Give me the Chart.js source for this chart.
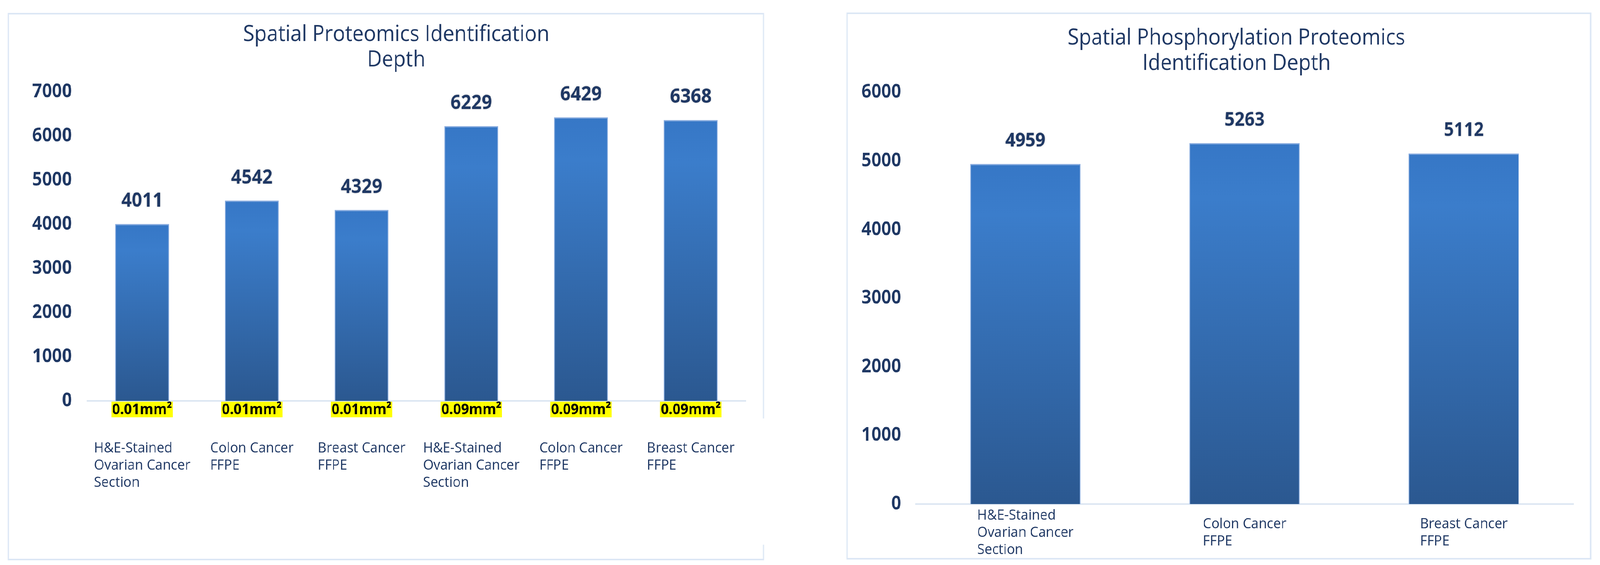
<!DOCTYPE html>
<html>
<head>
<meta charset="utf-8">
<script src="https://cdn.jsdelivr.net/npm/chart.js@4.4.0/dist/chart.umd.min.js"></script>
<style>
  html, body { margin: 0; padding: 0; background: #fff; overflow: hidden; }
  #page { width: 4401px; height: 1446px; position: relative; transform-origin: 0 0; }
  .panel { position: absolute; box-sizing: border-box; border: 4px solid #dce7f5; }
  canvas { position: absolute; }
</style>
</head>
<body>
<div id="page">
  <div class="panel" style="left:21px;top:33px;width:2081px;height:1401px"></div>
  <div style="position:absolute;left:2094px;top:1071px;width:10px;height:323px;background:#fff"></div>
  <canvas id="leftChart" width="2081" height="1401" style="left:21px;top:33px"></canvas>
  <div class="panel" style="left:2328px;top:32px;width:2049px;height:1400px"></div>
  <canvas id="rightChart" width="2049" height="1400" style="left:2328px;top:32px"></canvas>
</div>
<script>
// ---- data ----
var leftTitle = ['Spatial Proteomics Identification', 'Depth'];
var leftCategories = [
  ['H&E-Stained', 'Ovarian Cancer', 'Section'],
  ['Colon Cancer', 'FFPE'],
  ['Breast Cancer', 'FFPE'],
  ['H&E-Stained', 'Ovarian Cancer', 'Section'],
  ['Colon Cancer', 'FFPE'],
  ['Breast Cancer', 'FFPE']
];
var leftAreas = ['0.01mm²', '0.01mm²', '0.01mm²', '0.09mm²', '0.09mm²', '0.09mm²'];
var leftValues = [4011, 4542, 4329, 6229, 6429, 6368];
var leftMax = 7000;

var rightTitle = ['Spatial Phosphorylation Proteomics', 'Identification Depth'];
var rightCategories = [
  ['H&E-Stained', 'Ovarian Cancer', 'Section'],
  ['Colon Cancer', 'FFPE'],
  ['Breast Cancer', 'FFPE']
];
var rightValues = [4959, 5263, 5112];
var rightMax = 6000;

var navy = '#1f3864';
var FONT = '"Open Sans", "Noto Sans", sans-serif';

// the page is laid out at 4401 wide; squeeze it if the window is narrower
var sx = Math.min(1, window.innerWidth / 4401);
var sy = Math.min(1, window.innerHeight / 1446);
document.getElementById('page').style.transform = 'scale(' + sx + ',' + sy + ')';

// gradient per bar, from its top down to zero
function barFill(ctx) {
  var chart = ctx.chart;
  if (!chart.chartArea || ctx.type !== 'data') return '#3572bd';
  var y = chart.scales.y;
  var top = y.getPixelForValue(ctx.parsed.y);
  var bottom = y.getPixelForValue(0);
  var g = chart.ctx.createLinearGradient(0, top, 0, bottom);
  g.addColorStop(0, '#3677c6');
  g.addColorStop(0.15, '#3b7dcb');
  g.addColorStop(1, '#2b5890');
  return g;
}

var barText = {
  id: 'barText',
  // the title sits a little right of the canvas centre in the original
  afterLayout: function(chart, args, opts) {
    var t = chart.titleBlock;
    if (t && opts.titleShift) { t.left += opts.titleShift; t.right += opts.titleShift; }
  },
  afterDatasetsDraw: function(chart, args, opts) {
    var ctx = chart.ctx, xs = chart.scales.x, area = chart.chartArea;
    var meta = chart.getDatasetMeta(0);
    var values = chart.data.datasets[0].data;
    ctx.save();

    // value labels above the bars, with a faint glow like the original
    ctx.font = 'bold ' + opts.valueSize + 'px ' + FONT;
    ctx.fillStyle = navy;
    ctx.textAlign = 'center';
    ctx.textBaseline = 'middle';
    ctx.shadowColor = 'rgba(0,0,0,0.25)';
    ctx.shadowBlur = 4;
    meta.data.forEach(function(bar, i) {
      ctx.fillText(String(values[i]), bar.x, bar.y - opts.valueGap);
    });
    ctx.shadowColor = 'transparent';
    ctx.shadowBlur = 0;

    // category labels: block centred on bar, lines left aligned
    var lh = 44;
    ctx.font = '37px ' + FONT;
    ctx.textAlign = 'left';
    chart.data.labels.forEach(function(lines, i) {
      var cx = xs.getPixelForValue(i);
      var w = 0;
      lines.forEach(function(l) { w = Math.max(w, ctx.measureText(l).width); });
      var y0 = area.bottom + opts.catOffset;
      if (opts.catMode === 'middle') y0 -= (lines.length - 1) * lh / 2;
      lines.forEach(function(l, k) { ctx.fillText(l, cx - w / 2, y0 + k * lh); });
    });

    // yellow highlighted area tags under the axis
    if (opts.areas) {
      ctx.font = 'bold 38px ' + FONT;
      ctx.textAlign = 'center';
      opts.areas.forEach(function(t, i) {
        var cx = xs.getPixelForValue(i);
        var w = ctx.measureText(t).width + 4;
        ctx.fillStyle = '#ffff00';
        ctx.fillRect(cx - w / 2, area.bottom + 2, w, 40);
        ctx.fillStyle = '#000';
        ctx.fillText(t, cx, area.bottom + 23);
      });
    }
    ctx.restore();
  }
};

function makeChart(id, cfg) {
  return new Chart(document.getElementById(id), {
    type: 'bar',
    data: {
      labels: cfg.labels,
      datasets: [{
        data: cfg.values,
        backgroundColor: barFill,
        borderColor: 'rgba(120,160,218,0.9)',
        borderWidth: { top: 3, left: 2, right: 2, bottom: 0 },
        borderSkipped: 'bottom',
        categoryPercentage: 1,
        barPercentage: cfg.barPct
      }]
    },
    options: {
      responsive: false,
      devicePixelRatio: 1,
      animation: false,
      layout: { padding: { left: 0, right: cfg.padRight, top: 0, bottom: 0 } },
      plugins: {
        legend: { display: false },
        tooltip: { enabled: false },
        title: {
          display: true,
          text: cfg.title,
          color: navy,
          font: { family: FONT, size: 56, weight: 'normal', lineHeight: 1.15 },
          padding: { top: cfg.titleTop, bottom: cfg.titleBottom }
        },
        barText: {
          titleShift: cfg.titleShift,
          valueSize: cfg.valueSize,
          valueGap: 58,
          catOffset: cfg.catOffset,
          catMode: cfg.catMode,
          areas: cfg.areas
        }
      },
      scales: {
        x: {
          grid: { display: false, drawTicks: false },
          border: { display: true, color: '#dce6f2', width: 4 },
          ticks: { display: false },
          afterFit: function(s) { s.height = cfg.xHeight; }
        },
        y: {
          min: 0,
          max: cfg.max,
          grid: { display: false, drawTicks: false },
          border: { display: false },
          ticks: {
            stepSize: 1000,
            padding: cfg.tickPad,
            color: navy,
            font: { family: FONT, size: 48, weight: 'bold' },
            callback: function(v) { return String(v); }
          },
          afterFit: function(s) { s.width = cfg.yWidth; }
        }
      }
    },
    plugins: [barText]
  });
}

makeChart('leftChart', {
  labels: leftCategories, values: leftValues, max: leftMax, title: leftTitle,
  areas: leftAreas, barPct: 0.49, padRight: 51, titleTop: 24, titleBottom: 50, titleShift: 54,
  xHeight: 408, yWidth: 219, tickPad: 42, valueSize: 50,
  catOffset: 121, catMode: 'top'
});

makeChart('rightChart', {
  labels: rightCategories, values: rightValues, max: rightMax, title: rightTitle,
  areas: null, barPct: 0.503, padRight: 49, titleTop: 34, titleBottom: 42, titleShift: 73,
  xHeight: 142, yWidth: 191, tickPad: 40, valueSize: 48,
  catOffset: 73, catMode: 'middle'
});
</script>
</body>
</html>
